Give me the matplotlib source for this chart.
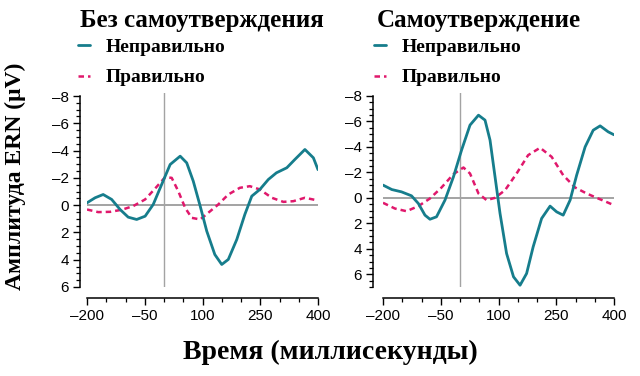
import matplotlib
matplotlib.use("Agg")
import matplotlib.pyplot as plt
from matplotlib.ticker import MultipleLocator

# ---- data ----
titles = ["Без самоутверждения", "Самоутверждение"]
label_wrong = "Неправильно"
label_right = "Правильно"

# Left panel (no self-affirmation)
l_wrong_t = [-200, -179, -158, -136, -114, -93, -71, -49, -28, -6, 16, 42, 59, 76, 94, 111, 132, 150, 167, 189, 210, 228, 249, 271, 292, 319, 340, 366, 388, 400]
l_wrong_v = [-0.17, -0.54, -0.78, -0.42, 0.32, 0.88, 1.05, 0.81, -0.05, -1.52, -2.98, -3.59, -3.1, -1.76, 0.07, 1.9, 3.62, 4.35, 3.98, 2.52, 0.68, -0.66, -1.15, -1.88, -2.37, -2.74, -3.35, -4.08, -3.47, -2.6]
l_right_t = [-200, -171, -140, -110, -80, -49, -23, 3, 20, 37, 55, 72, 94, 115, 141, 167, 197, 223, 249, 280, 310, 336, 366, 400]
l_right_v = [0.32, 0.51, 0.49, 0.34, 0.07, -0.42, -1.22, -2.05, -2.0, -1.03, 0.2, 0.93, 1.05, 0.56, -0.05, -0.78, -1.27, -1.39, -1.15, -0.54, -0.24, -0.29, -0.54, -0.34]

# Right panel (self-affirmation)
r_wrong_t = [-200, -177, -152, -126, -108, -91, -78, -61, -39, -17, 4, 26, 48, 65, 78, 91, 104, 121, 139, 156, 173, 190, 212, 234, 251, 268, 286, 303, 325, 346, 364, 385, 400]
r_wrong_v = [-1.0, -0.65, -0.47, -0.16, 0.45, 1.36, 1.68, 1.49, 0.18, -1.65, -3.74, -5.71, -6.49, -6.1, -4.53, -1.65, 1.23, 4.37, 6.2, 6.86, 5.94, 3.85, 1.62, 0.65, 1.1, 1.36, 0.18, -1.78, -4.0, -5.31, -5.65, -5.18, -4.95]
r_right_t = [-200, -169, -139, -108, -78, -48, -17, 9, 26, 48, 69, 91, 117, 147, 177, 208, 238, 268, 299, 329, 359, 394]
r_right_v = [0.39, 0.84, 1.05, 0.65, 0.05, -0.81, -1.86, -2.38, -1.91, -0.34, 0.18, 0.0, -0.6, -1.91, -3.35, -3.93, -3.22, -1.78, -0.81, -0.34, 0.05, 0.5]

x_ticks = [-200, -50, 100, 250, 400]
y_ticks_left = [-8, -6, -4, -2, 0, 2, 4, 6]
y_ticks_right = [-8, -6, -4, -2, 0, 2, 4, 6]

ylabel = "Амплитуда ERN (μV)"
xlabel = "Время (миллисекунды)"

TEAL = "#167d8c"
PINK = "#e0186c"
GRAY = "#a3a3a3"
SERIF = ["Liberation Serif", "DejaVu Serif"]
NARROW = ["Liberation Sans Narrow", "Liberation Sans", "DejaVu Sans"]

W, H = 640, 376
fig = plt.figure(figsize=(W / 100, H / 100), dpi=100)

def fx(px):
    return px / W

def fy(py):
    return 1 - py / H

panels = [
    dict(left=87, right=318, ylim=(6, -8.22), spine_off=5, bounds=(-8, 6),
         wt=l_wrong_t, wv=l_wrong_v, rt=l_right_t, rv=l_right_v, yt=y_ticks_left,
         title_x=80, leg_x=78),
    dict(left=383, right=614, ylim=(7, -8.23), spine_off=7.2, bounds=(-8, 7),
         wt=r_wrong_t, wv=r_wrong_v, rt=r_right_t, rv=r_right_v, yt=y_ticks_right,
         title_x=377, leg_x=374),
]

top_px, bot_px = 93, 287
for i, p in enumerate(panels):
    ax = fig.add_axes([fx(p["left"]), fy(bot_px), fx(p["right"] - p["left"]), (bot_px - top_px) / H])
    ax.set_xlim(-200, 400)
    ax.set_ylim(*p["ylim"])
    ax.axhline(0, color=GRAY, lw=1.4, zorder=1)
    ax.axvline(0, color=GRAY, lw=1.0, zorder=1)
    ax.plot(p["wt"], p["wv"], color=TEAL, lw=2.0, solid_joinstyle="round",
            solid_capstyle="round", label=label_wrong, zorder=3)
    ax.plot(p["rt"], p["rv"], color=PINK, lw=1.8, ls=(0, (2.2, 1.6)),
            label=label_right, zorder=2)

    for s in ["top", "right"]:
        ax.spines[s].set_visible(False)
    ax.spines["left"].set_position(("outward", p["spine_off"]))
    ax.spines["bottom"].set_position(("outward", 8))
    ax.spines["left"].set_bounds(*p["bounds"])
    ax.spines["bottom"].set_bounds(-200, 400)
    for s in ["left", "bottom"]:
        ax.spines[s].set_linewidth(1.1)
    ax.set_xticks(x_ticks)
    ax.set_xticklabels([str(t).replace("-", "\u2013") for t in x_ticks])
    ax.set_yticks(p["yt"])
    ax.set_yticklabels([str(t).replace("-", "\u2013") for t in p["yt"]])
    ax.xaxis.set_minor_locator(MultipleLocator(50))
    ax.yaxis.set_minor_locator(MultipleLocator(0.5))
    ax.tick_params(which="major", length=5, width=1.0, pad=3)
    ax.tick_params(which="minor", length=3, width=0.9)
    for lab in ax.get_xticklabels() + ax.get_yticklabels():
        lab.set_family(NARROW)
        lab.set_fontsize(11)
    ax.patch.set_alpha(0)

    fig.text(fx(p["title_x"]), fy(20), titles[i], family=SERIF, fontweight="bold",
             fontsize=18, va="center", ha="left")
    leg = ax.legend(loc="upper left", bbox_to_anchor=(fx(p["leg_x"]), fy(38)),
                    bbox_transform=fig.transFigure, frameon=False,
                    handlelength=0.6, handletextpad=0.8, labelspacing=0.68,
                    prop=dict(family=SERIF, weight="bold", size=14),
                    borderpad=0, borderaxespad=0)

fig.text(fx(15), fy(176), ylabel, rotation=90, family=SERIF, fontweight="bold",
         fontsize=17, va="center", ha="center")
fig.text(fx(330), fy(352), xlabel, family=SERIF, fontweight="bold",
         fontsize=20, va="center", ha="center")

fig.savefig("out.png", dpi=100)
